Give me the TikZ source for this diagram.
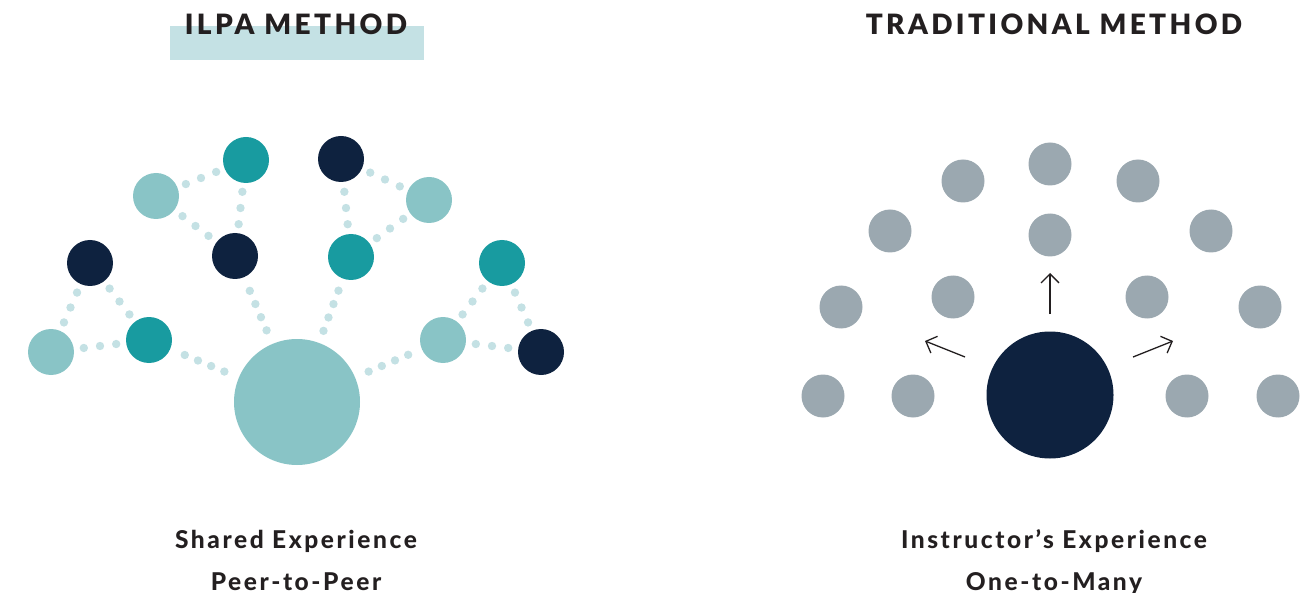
\documentclass[tikz,border=0pt]{standalone}
\usepackage{fontspec}
\setmainfont{Lato}
\usetikzlibrary{calc,arrows.meta}

\definecolor{paleteal}{HTML}{89C4C6}
\definecolor{deepteal}{HTML}{189BA0}
\definecolor{navy}{HTML}{0E223F}
\definecolor{slate}{HTML}{9BA8B0}
\definecolor{dotteal}{HTML}{C4E1E4}
\definecolor{inkblack}{HTML}{231F20}

\newfontfamily\titlefont{Lato Black}[LetterSpace=12]
\newfontfamily\capfont{Lato Heavy}[LetterSpace=10.5]

% dotted link between two peers: \peerlink[gap]{from}{to}{dots}
\newcommand{\peerlink}[4][16.3pt]{%
  \path (#2) -- coordinate[pos=.5] (mid) (#3);
  \foreach \k in {1,...,#4}
    \fill[dotteal] ($(mid)!{(\k-(#4+1)/2)*#1}!(#3)$) circle (4.2pt);
}

\begin{document}
\begin{tikzpicture}[x=1pt, y=-1pt,
    peer/.style={circle, inner sep=0pt, outer sep=0pt, minimum size=46pt},
    hub/.style={peer, minimum size=126pt},
    seat/.style={circle, inner sep=0pt, outer sep=0pt, minimum size=43pt, fill=slate},
    lecturer/.style={seat, minimum size=127pt, fill=navy},
    heading/.style={anchor=base, text=inkblack, font=\titlefont\fontsize{28}{30}\selectfont},
    caption/.style={anchor=base, text=inkblack, font=\capfont\fontsize{24.5}{27}\selectfont},
    arr/.style={line width=1.3pt, draw=inkblack, -{Straight Barb[length=9pt, width=18pt]}}]
\useasboundingbox (0,0) rectangle (1313,593);

% titles
\fill[dotteal] (170,26) rectangle (424,60);
\node[heading] (ilpa) at (296,35) {ILPA METHOD};
\node[heading] (trad) at (1054,35) {TRADITIONAL METHOD};

% ILPA method: peers around the shared hub
\node[hub, fill=paleteal] (hub) at (297,402) {};
\node[peer, fill=paleteal] (p1) at (156,196) {};
\node[peer, fill=deepteal] (p2) at (246,160) {};
\node[peer, fill=navy] (p3) at (341,159) {};
\node[peer, fill=paleteal] (p4) at (429,200) {};
\node[peer, fill=navy] (p5) at (235,256) {};
\node[peer, fill=deepteal] (p6) at (351,257) {};
\node[peer, fill=navy] (p7) at (90,263) {};
\node[peer, fill=deepteal] (p8) at (502,263) {};
\node[peer, fill=paleteal] (p9) at (51,352) {};
\node[peer, fill=deepteal] (p10) at (149,340) {};
\node[peer, fill=paleteal] (p11) at (443,340) {};
\node[peer, fill=navy] (p12) at (541,352) {};

\peerlink{p1}{p2}{3}
\peerlink{p2}{p5}{3}
\peerlink{p1}{p5}{3}
\peerlink{p3}{p6}{3}
\peerlink{p3}{p4}{3}
\peerlink{p4}{p6}{3}
\peerlink{p7}{p9}{3}
\peerlink{p7}{p10}{3}
\peerlink{p9}{p10}{3}
\peerlink{p8}{p11}{3}
\peerlink{p8}{p12}{3}
\peerlink{p11}{p12}{3}
\peerlink[14.3pt]{p10}{hub}{4}
\peerlink[14.3pt]{p5}{hub}{4}
\peerlink[14.3pt]{p6}{hub}{4}
\peerlink[14.3pt]{p11}{hub}{4}

% traditional method: one instructor, many seats
\node[lecturer] (inst) at (1050,395) {};
\foreach \x/\y [count=\i] in {1050/164, 963/181, 1138/181, 890/231, 1050/235,
    1211/231, 841/307, 953/297, 1147/297, 1260/307, 823/396, 913/396,
    1187/396, 1278/396}
  \node[seat] (s\i) at (\x,\y) {};

\coordinate (upS) at (1050,314);
\coordinate (upT) at (1050,273);
\coordinate (leftS) at (965,357);
\coordinate (leftT) at (925,341);
\coordinate (rightS) at (1133,357);
\coordinate (rightT) at (1173,341);
\draw[arr] (upS) -- (upT);
\draw[arr] (leftS) -- (leftT);
\draw[arr] (rightS) -- (rightT);

% captions
\node[caption] (shared) at (296,548) {Shared Experience};
\node[caption] (peer) at (296,590) {Peer-to-Peer};
\node[caption] (instexp) at (1054,548) {Instructor’s Experience};
\node[caption] (many) at (1054,590) {One-to-Many};
\end{tikzpicture}
\end{document}
